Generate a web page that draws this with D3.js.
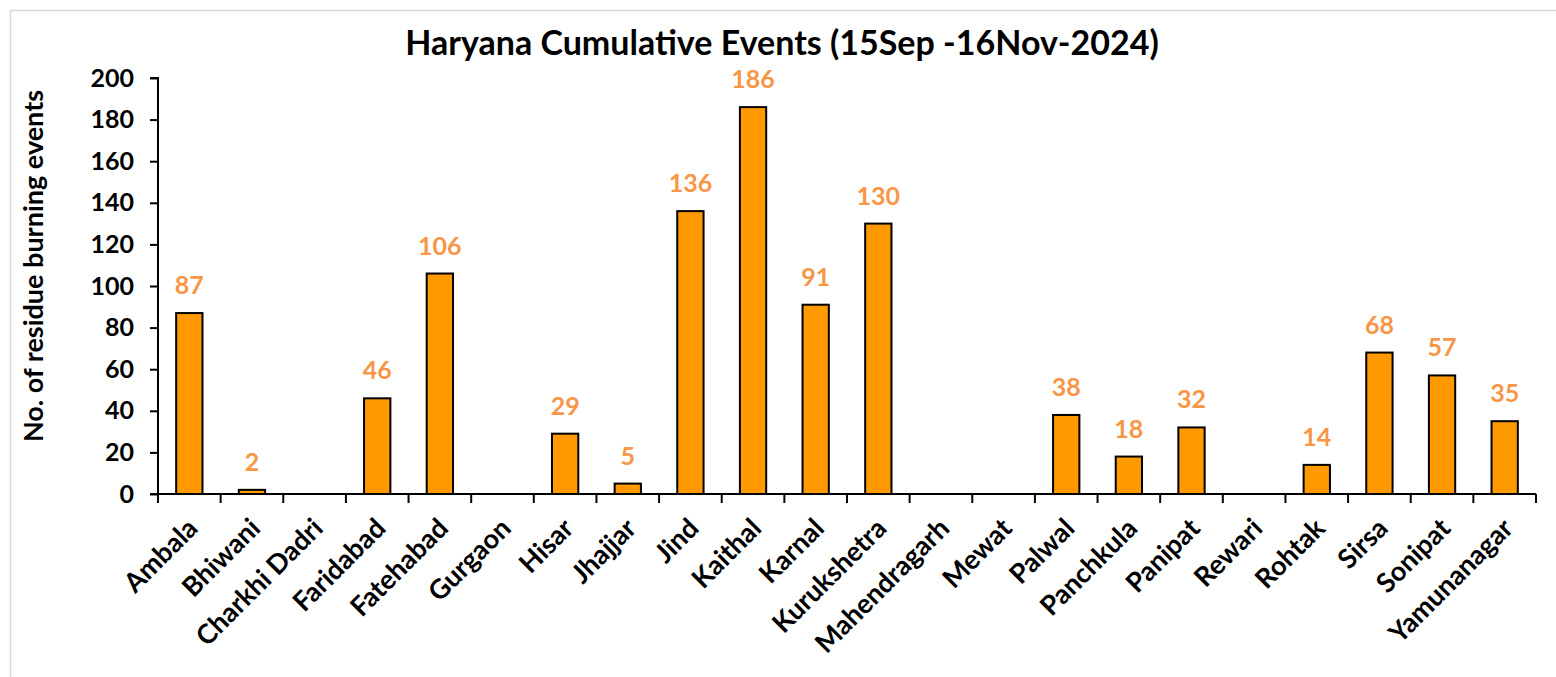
<!DOCTYPE html>
<html>
<head>
<meta charset="utf-8">
<script src="https://cdn.jsdelivr.net/npm/d3@7"></script>
<style>
  body { margin: 0; background: #fff; }
  svg text { font-family: Lato, "Open Sans", sans-serif; font-weight: bold; }
</style>
</head>
<body>
<svg id="chart" width="1556" height="677"></svg>
<script>
var districts = ['Ambala', 'Bhiwani', 'Charkhi Dadri', 'Faridabad', 'Fatehabad', 'Gurgaon',
    'Hisar', 'Jhajjar', 'Jind', 'Kaithal', 'Karnal', 'Kurukshetra', 'Mahendragarh', 'Mewat',
    'Palwal', 'Panchkula', 'Panipat', 'Rewari', 'Rohtak', 'Sirsa', 'Sonipat', 'Yamunanagar'];
var events = [87, 2, 0, 46, 106, 0, 29, 5, 136, 186, 91, 130, 0, 0, 38, 18, 32, 0, 14, 68, 57, 35];
var yTicks = [0, 20, 40, 60, 80, 100, 120, 140, 160, 180, 200];

var titleText = 'Haryana Cumulative Events (15Sep -16Nov-2024)',
    yLabel = 'No. of residue burning events';

var svg = d3.select('#chart');

var margin = {l: 158, r: 20, t: 78, b: 183},
    width = 1556 - margin.l - margin.r,
    height = 677 - margin.t - margin.b;

var rows = districts.map(function(name, i) {
    return {name: name, value: events[i]};
});

// light frame round the chart area
svg.append('rect')
    .attr('x', 10.5).attr('y', 10.5)
    .attr('width', 1600).attr('height', 700)
    .attr('fill', 'none')
    .attr('stroke', '#d9d9d9')
    .attr('stroke-width', 1.5);

var x = d3.scaleBand()
    .domain(districts)
    .range([0, width])
    .paddingInner(0.58)
    .paddingOuter(0.29);

var y = d3.scaleLinear()
    .domain([0, 200])
    .range([height, 0]);

var g = svg.append('g')
    .attr('transform', 'translate(' + margin.l + ',' + margin.t + ')');

svg.append('text')
    .attr('x', 782)
    .attr('y', 55)
    .attr('text-anchor', 'middle')
    .style('font-size', '34px')
    .text(titleText);

svg.append('text')
    .attr('transform', 'translate(43,' + (margin.t + height / 2 - 20) + ') rotate(-90)')
    .attr('text-anchor', 'middle')
    .style('font-size', '27px')
    .text(yLabel);

var nonZero = rows.filter(function(d) { return d.value > 0; });

g.selectAll('rect.bar')
    .data(nonZero)
    .enter().append('rect')
    .attr('class', 'bar')
    .attr('x', function(d) { return x(d.name); })
    .attr('y', function(d) { return y(d.value); })
    .attr('width', x.bandwidth())
    .attr('height', function(d) { return height - y(d.value); })
    .attr('fill', '#ff9900')
    .attr('stroke', '#000')
    .attr('stroke-width', 2);

g.selectAll('text.val')
    .data(nonZero)
    .enter().append('text')
    .attr('class', 'val')
    .attr('x', function(d) { return x(d.name) + x.bandwidth() / 2; })
    .attr('y', function(d) { return y(d.value) - 19; })
    .attr('text-anchor', 'middle')
    .attr('fill', '#f79646')
    .style('font-size', '25px')
    .text(function(d) { return d.value; });

// y axis
var yAxis = g.append('g')
    .call(d3.axisLeft(y).tickValues(yTicks).tickSize(8).tickPadding(16));
yAxis.select('.domain').attr('stroke', '#000').attr('stroke-width', 2)
    .attr('d', 'M0,' + height + 'V0H-8');
yAxis.selectAll('.tick line').attr('stroke', '#000').attr('stroke-width', 2);
yAxis.selectAll('.tick text')
    .attr('fill', '#000')
    .style('font-size', '25px')
    .style('font-family', 'Lato, sans-serif')
    .style('font-weight', 'bold');

// x axis with ticks between categories
var xAxis = g.append('g').attr('transform', 'translate(0,' + height + ')');
xAxis.append('line')
    .attr('x1', -8).attr('x2', width)
    .attr('stroke', '#000').attr('stroke-width', 2);

var step = x.step();
xAxis.selectAll('line.tick')
    .data(d3.range(districts.length + 1))
    .enter().append('line')
    .attr('class', 'tick')
    .attr('x1', function(i) { return i * step; })
    .attr('x2', function(i) { return i * step; })
    .attr('y1', 0).attr('y2', 9)
    .attr('stroke', '#000').attr('stroke-width', 2);

xAxis.selectAll('text.lab')
    .data(districts)
    .enter().append('text')
    .attr('class', 'lab')
    .attr('text-anchor', 'end')
    .attr('transform', function(d) {
        return 'translate(' + (x(d) + x.bandwidth() / 2 + 10) + ',36) rotate(-45)';
    })
    .style('font-size', '27px')
    .text(function(d) { return d; });
</script>
</body>
</html>
